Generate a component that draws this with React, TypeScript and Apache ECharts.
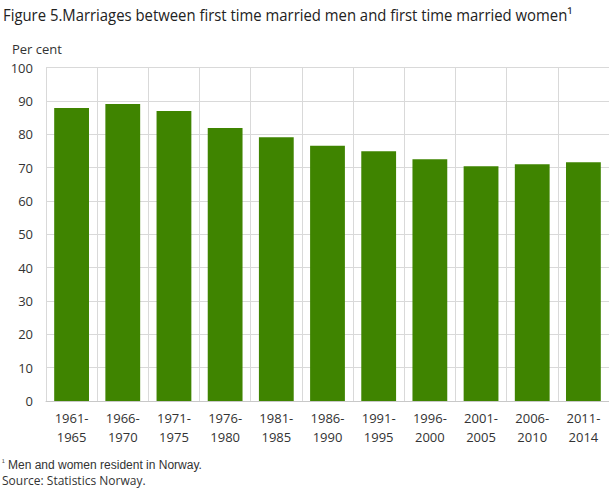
import { useRef, useEffect } from 'react'
import * as echarts from 'echarts'

const categories = [
  '1961-\n1965',
  '1966-\n1970',
  '1971-\n1975',
  '1976-\n1980',
  '1981-\n1985',
  '1986-\n1990',
  '1991-\n1995',
  '1996-\n2000',
  '2001-\n2005',
  '2006-\n2010',
  '2011-\n2014',
]
const values = [87.9, 89.1, 87.0, 81.9, 79.1, 76.6, 74.9, 72.5, 70.4, 71.0, 71.6]
const titleText = 'Figure 5.Marriages between first time married men and first time married women¹'
const unitLabel = 'Per cent'
const noteMark = '¹'
const noteText = ' Men and women resident in Norway.'
const sourceText = 'Source: Statistics Norway.'

const font = '"Open Sans", sans-serif'

export default function App() {
  const chartRef = useRef<HTMLDivElement>(null)

  useEffect(() => {
    if (!chartRef.current) return
    const chart = echarts.init(chartRef.current, undefined, { renderer: 'svg' })
    chart.setOption({
      animation: false,
      backgroundColor: '#fff',
      textStyle: { fontFamily: font },
      grid: { left: 46, right: 0, top: 67.7, bottom: 88, containLabel: false },
      xAxis: {
        type: 'category',
        data: categories,
        axisLine: { lineStyle: { color: '#c8c8c8' } },
        axisTick: { show: false },
        splitLine: { show: true, lineStyle: { color: '#d9d9d9', width: 1 } },
        axisLabel: {
          color: '#333',
          fontSize: 13,
          lineHeight: 19,
          margin: 7,
          interval: 0,
          fontFamily: font,
        },
      },
      yAxis: {
        type: 'value',
        min: 0,
        max: 100,
        interval: 10,
        axisLine: { show: false },
        axisTick: { show: false },
        splitLine: { lineStyle: { color: '#d9d9d9', width: 1 } },
        axisLabel: { color: '#333', fontSize: 13, margin: 13, fontFamily: font },
      },
      series: [
        {
          type: 'bar',
          data: values,
          barWidth: '68%',
          itemStyle: { color: '#3f8400' },
        },
      ],
      graphic: [
        {
          type: 'text',
          x: 3,
          y: 7,
          scaleX: 0.93,
          style: { text: titleText, fontSize: 16, fill: '#222', fontFamily: font },
        },
        {
          type: 'text',
          left: 12,
          top: 42,
          style: { text: unitLabel, fontSize: 13, fill: '#333', fontFamily: font },
        },
        {
          type: 'text',
          left: 2,
          top: 458,
          style: {
            text: `{sup|${noteMark}}{n|${noteText}}`,
            fontFamily: font,
            rich: {
              sup: { fontSize: 8, fill: '#333', verticalAlign: 'top', padding: [0, 0, 5, 0] },
              n: { fontSize: 12, fill: '#333' },
            },
          },
        },
        {
          type: 'text',
          left: 2,
          top: 474,
          style: { text: sourceText, fontSize: 12, fill: '#333', fontFamily: font },
        },
      ],
    })
    return () => chart.dispose()
  }, [])

  return (
    <div
      ref={chartRef}
      style={{ position: 'fixed', left: 0, top: 0, width: 609, height: 489 }}
    />
  )
}
